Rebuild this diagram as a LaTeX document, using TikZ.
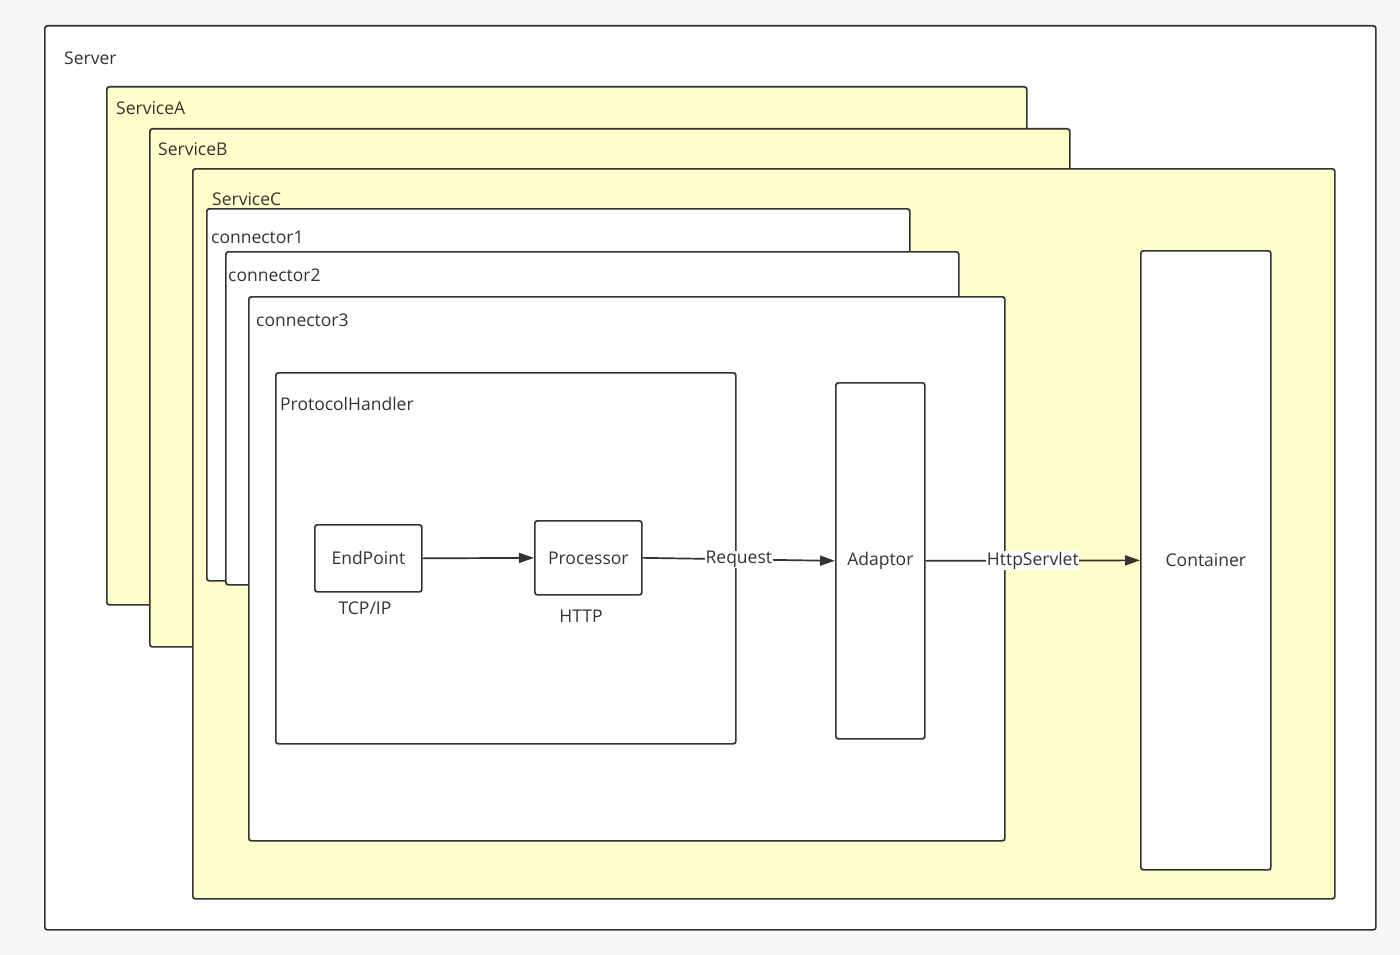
\documentclass[tikz,border=0pt]{standalone}
\usepackage{fontspec}
\setmainfont{Open Sans}
\usetikzlibrary{arrows.meta}
\definecolor{bg}{HTML}{F7F7F7}
\definecolor{yel}{HTML}{FFFFCC}
\definecolor{ln}{HTML}{333333}
\begin{document}
\begin{tikzpicture}[x=1pt,y=-1pt,
  box/.style={draw=ln, line width=1.7pt, rounded corners=2.5pt, anchor=north west, inner sep=0pt, font=\fontsize{17.5}{19}\selectfont, text=ln},
  txt/.style={font=\fontsize{17.5}{19}\selectfont, text=ln, inner sep=0pt},
  arr/.style={draw=ln, line width=1.7pt, -{Triangle[length=15pt,width=10pt]}},
  lbl/.style={txt, fill=white, inner sep=0.5pt}]
\fill[bg] (0,0) rectangle (1400,955);
\useasboundingbox (0,0) rectangle (1400,955);
% containers
\node[box, fill=white, minimum width=1331pt, minimum height=904pt] (server) at (44,25) {};
\node[txt, anchor=base west] (serverlbl) at (64,65) {Server};
\node[box, fill=yel, minimum width=920pt, minimum height=518pt] (svcA) at (106,86) {};
\node[txt, anchor=base west] (svcAlbl) at (116,115) {ServiceA};
\node[box, fill=yel, minimum width=920pt, minimum height=518pt] (svcB) at (149,128) {};
\node[txt, anchor=base west] (svcBlbl) at (158,155) {ServiceB};
\node[box, fill=yel, minimum width=1142pt, minimum height=730pt] (svcC) at (192,168) {};
\node[txt, anchor=base west] (svcClbl) at (212,205) {ServiceC};
\node[box, fill=white, minimum width=703pt, minimum height=372pt] (con1) at (206,208) {};
\node[txt, anchor=base west] (con1lbl) at (211,243) {connector1};
\node[box, fill=white, minimum width=733pt, minimum height=333pt] (con2) at (225,251) {};
\node[txt, anchor=base west] (con2lbl) at (228,281) {connector2};
\node[box, fill=white, minimum width=756pt, minimum height=544pt] (con3) at (248,296) {};
\node[txt, anchor=base west] (con3lbl) at (256,326) {connector3};
\node[box, fill=white, minimum width=460pt, minimum height=371pt] (ph) at (275,372) {};
\node[txt, anchor=base west] (phlbl) at (280,410) {ProtocolHandler};
% inner components
\node[box, fill=white, minimum width=107pt, minimum height=67pt] (ep) at (314,524) {EndPoint};
\node[txt] (eplbl) at (365,608) {TCP/IP};
\node[box, fill=white, minimum width=107pt, minimum height=74pt] (proc) at (534,520) {Processor};
\node[txt] (proclbl) at (581,616) {HTTP};
\node[box, fill=white, minimum width=89pt, minimum height=356pt] (adaptor) at (835,382) {Adaptor};
\node[box, fill=white, minimum width=130pt, minimum height=619pt] (container) at (1140,250) {Container};
% connectors
\draw[arr] (ep.east) -- (proc.west);
\draw[arr] (proc.east) -- node[lbl] (reqlbl) {Request} (adaptor.west);
\draw[arr] (adaptor.east) -- node[lbl] (hslbl) {HttpServlet} (container.west);
\end{tikzpicture}
\end{document}
